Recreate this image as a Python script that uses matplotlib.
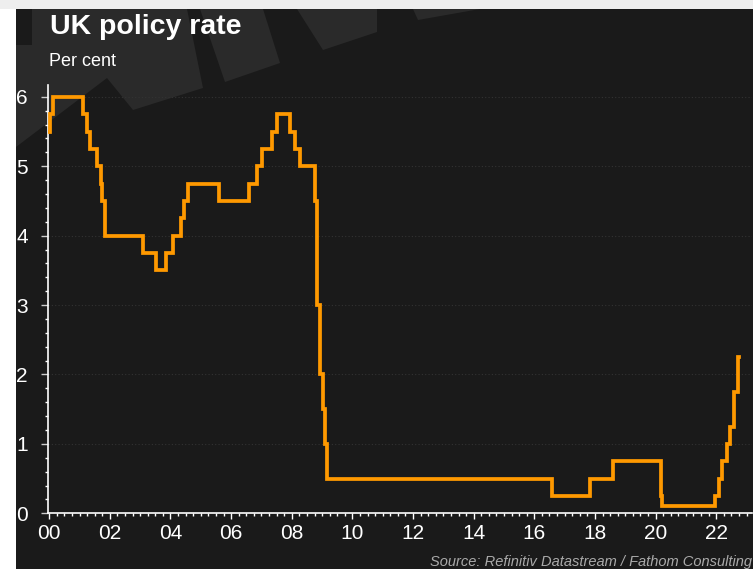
import pandas as pd
import matplotlib.pyplot as plt
from matplotlib.patches import Rectangle, Polygon
from matplotlib.ticker import MultipleLocator, FixedLocator

# Bank Rate changes (date of change, new rate)
change_dates = [
    "2000-01-04", "2000-01-13", "2000-02-10",
    "2001-02-08", "2001-04-05", "2001-05-10", "2001-08-02", "2001-09-18",
    "2001-10-04", "2001-11-08",
    "2003-02-06", "2003-07-10", "2003-11-06",
    "2004-02-05", "2004-05-06", "2004-06-10", "2004-08-05",
    "2005-08-04",
    "2006-08-03", "2006-11-09", "2007-01-11", "2007-05-10", "2007-07-05",
    "2007-12-06", "2008-02-07", "2008-04-10", "2008-10-08", "2008-11-06",
    "2008-12-04", "2009-01-08", "2009-02-05", "2009-03-05",
    "2016-08-04", "2017-11-02", "2018-08-02", "2020-03-11", "2020-03-19",
    "2021-12-16", "2022-02-03", "2022-03-17", "2022-05-05", "2022-06-16",
    "2022-08-04", "2022-09-22", "2022-10-05",
]
rates = [
    5.50, 5.75, 6.00,
    5.75, 5.50, 5.25, 5.00, 4.75,
    4.50, 4.00,
    3.75, 3.50, 3.75,
    4.00, 4.25, 4.50, 4.75,
    4.50,
    4.75, 5.00, 5.25, 5.50, 5.75,
    5.50, 5.25, 5.00, 4.50, 3.00,
    2.00, 1.50, 1.00, 0.50,
    0.25, 0.50, 0.75, 0.25, 0.10,
    0.25, 0.50, 0.75, 1.00, 1.25,
    1.75, 2.25, 2.25,
]
tick_years = list(range(0, 23, 2))
tick_labels = [f"{y:02d}" for y in tick_years]

dates = pd.to_datetime(change_dates)
x = (dates.year - 2000) + (dates.dayofyear - 1) / (365 + dates.is_leap_year.astype(int))

W, H = 753, 569
plt.rcParams["font.family"] = ["Liberation Sans", "DejaVu Sans"]
fig = plt.figure(figsize=(W / 100, H / 100), dpi=100, facecolor="white")


def px(pts):
    return [(a / W, 1 - b / H) for a, b in pts]


# panel background and watermark shapes
fig.patches.append(Rectangle((0, 1 - 9 / H), 1, 9 / H, transform=fig.transFigure,
                             facecolor="#eeeeee", edgecolor="none", zorder=0))
fig.patches.append(Rectangle((16 / W, 0), 1, 1 - 9 / H, transform=fig.transFigure,
                             facecolor="#1a1a1a", edgecolor="none", zorder=0))
shade = "#2a2a2a"
shapes = [
    [(32, 9), (187, 9), (203, 88), (133, 110), (107, 78), (16, 147), (16, 45), (32, 45)],
    [(200, 9), (263, 9), (280, 63), (225, 82)],
    [(297, 9), (377, 9), (377, 32), (323, 50)],
    [(413, 9), (480, 9), (418, 20)],
]
for s in shapes:
    fig.patches.append(Polygon(px(s), closed=True, transform=fig.transFigure,
                               facecolor=shade, edgecolor="none", zorder=0.5))

ax = fig.add_axes([48 / W, 1 - 513.3 / H, (752 - 48) / W, (513.3 - 85) / H])
ax.set_facecolor("none")
ax.set_zorder(2)

ax.step(x, rates, where="post", color="#ff9900", linewidth=2.7, solid_joinstyle="miter", zorder=3)

ax.set_xlim(-0.04, 23.18)
ax.set_ylim(0, 6.17)

for side in ["top", "right"]:
    ax.spines[side].set_visible(False)
for side in ["left", "bottom"]:
    ax.spines[side].set_color("white")
    ax.spines[side].set_linewidth(1.2)

ax.xaxis.set_major_locator(FixedLocator(tick_years))
ax.set_xticklabels(tick_labels)
ax.xaxis.set_minor_locator(MultipleLocator(0.25))
ax.yaxis.set_major_locator(MultipleLocator(1))
ax.yaxis.set_minor_locator(MultipleLocator(0.2))

ax.tick_params(axis="x", which="major", direction="out", length=4, width=1, color="white",
               labelcolor="white", labelsize=15, pad=4)
ax.tick_params(axis="x", which="minor", direction="out", length=2, width=1, color="white")
ax.tick_params(axis="y", which="major", direction="out", length=5, width=1, color="#cccccc",
               labelcolor="white", labelsize=15, pad=9.5)
ax.tick_params(axis="y", which="minor", direction="out", length=2.5, width=1, color="white")

ax.grid(axis="y", which="major", color="#333333", linestyle=(0, (1, 2)), linewidth=0.8)
ax.set_axisbelow(True)

fig.text(50 / W, 1 - 34 / H, "UK policy rate", color="white", fontsize=20.5,
         fontweight="bold", ha="left", va="baseline")
fig.text(49 / W, 1 - 66 / H, "Per cent", color="white", fontsize=13,
         ha="left", va="baseline")
fig.text(752 / W, 1 - 566 / H, "Source: Refinitiv Datastream / Fathom Consulting",
         color="#aaaaaa", fontsize=10.5, style="italic", ha="right", va="baseline")

fig.savefig("out.png", dpi=100, facecolor=fig.get_facecolor())
plt.close(fig)
